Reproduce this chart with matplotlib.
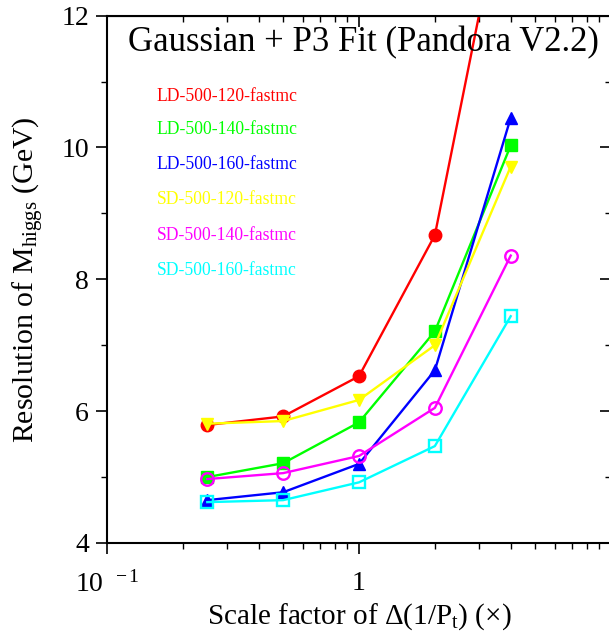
import matplotlib
matplotlib.use('Agg')
import matplotlib.pyplot as plt
from matplotlib.ticker import FixedLocator, FixedFormatter, NullFormatter

plt.rcParams['font.family'] = ['Liberation Serif', 'DejaVu Serif']
plt.rcParams['mathtext.fontset'] = 'custom'
plt.rcParams['mathtext.rm'] = 'Liberation Serif'
plt.rcParams['mathtext.it'] = 'Liberation Serif:italic'

# Dados
scale = [0.25, 0.5, 1, 2, 4]
labels = ['LD-500-120-fastmc', 'LD-500-140-fastmc', 'LD-500-160-fastmc',
          'SD-500-120-fastmc', 'SD-500-140-fastmc', 'SD-500-160-fastmc']
ld120 = [5.79, 5.92, 6.53, 8.67, 14.4]
ld140 = [5.00, 5.21, 5.83, 7.21, 10.03]
ld160 = [4.65, 4.77, 5.20, 6.62, 10.45]
sd120 = [5.81, 5.85, 6.17, 7.00, 9.71]
sd140 = [4.97, 5.06, 5.32, 6.05, 8.36]
sd160 = [4.62, 4.65, 4.92, 5.47, 7.44]
series = [ld120, ld140, ld160, sd120, sd140, sd160]
colors = ['#ff0000', '#00ff00', '#0000ff', '#ffff00', '#ff00ff', '#00ffff']
markers = ['o', 's', '^', 'v', 'o', 's']
filled = [True, True, True, True, False, False]

fig = plt.figure(figsize=(6.09, 6.34), dpi=100)
ax = fig.add_axes([107/609, 91/634, 504/609, 527.4/634])

for ys, c, m, f in zip(series, colors, markers, filled):
    ax.plot(scale, ys, color=c, lw=1.7, marker=m, ms=9,
            markerfacecolor=c if f else 'none', markeredgecolor=c,
            markeredgewidth=1.7 if not f else 1.0)

ax.set_xscale('log')
ax.set_xlim(0.1, 10)
ax.set_ylim(4, 12)

xmajor = [0.1, 1, 10]
xminor = [0.2, 0.3, 0.4, 0.5, 0.6, 0.7, 0.8, 0.9, 2, 3, 4, 5, 6, 7, 8, 9]
ax.xaxis.set_major_locator(FixedLocator(xmajor))
ax.xaxis.set_major_formatter(FixedFormatter([r'$10^{\ \ -1}$', '1', '']))
ax.xaxis.set_minor_locator(FixedLocator(xminor))
ax.xaxis.set_minor_formatter(NullFormatter())
ax.yaxis.set_major_locator(FixedLocator([4, 6, 8, 10, 12]))
ax.yaxis.set_minor_locator(FixedLocator([5, 7, 9, 11]))

ax.tick_params(which='major', direction='out', length=8, width=1.2, labelsize=20, pad=5)
ax.tick_params(axis='x', which='major', pad=12)
ax.tick_params(which='minor', direction='out', length=4.5, width=1.0)
for s in ax.spines.values():
    s.set_linewidth(1.5)

# eixos de cima e direita com ticks para dentro
top = ax.secondary_xaxis('top')
top.xaxis.set_major_locator(FixedLocator(xmajor))
top.xaxis.set_minor_locator(FixedLocator(xminor))
top.xaxis.set_major_formatter(NullFormatter())
top.xaxis.set_minor_formatter(NullFormatter())
top.tick_params(which='major', direction='in', length=8, width=1.2)
top.tick_params(which='minor', direction='in', length=4.5, width=1.0)
right = ax.secondary_yaxis('right')
right.yaxis.set_major_locator(FixedLocator([4, 6, 8, 10, 12]))
right.yaxis.set_minor_locator(FixedLocator([5, 7, 9, 11]))
right.yaxis.set_major_formatter(NullFormatter())
right.tick_params(which='major', direction='in', length=8, width=1.2)
right.tick_params(which='minor', direction='in', length=4.5, width=1.0)

ax.set_xlabel(r'Scale factor of $\Delta$(1/P$_{\mathrm{t}}$) ($\times$)', fontsize=21, labelpad=3)
ax.set_ylabel(r'Resolution of M$_{\mathrm{higgs}}$ (GeV)', fontsize=21.5)
ax.yaxis.set_label_coords(-0.122, 0.5)

ax.text(0.508, 0.949, 'Gaussian + P3 Fit (Pandora V2.2)', transform=ax.transAxes,
        ha='center', va='center', fontsize=25)

label_y = [97, 130, 165, 200, 236, 271]
for lab, c, yy in zip(labels, colors, label_y):
    ax.text(0.099, (543 - yy) / 527, lab, color=c, transform=ax.transAxes,
            ha='left', va='center', fontsize=12.7)

plt.savefig('out.png', dpi=100)
